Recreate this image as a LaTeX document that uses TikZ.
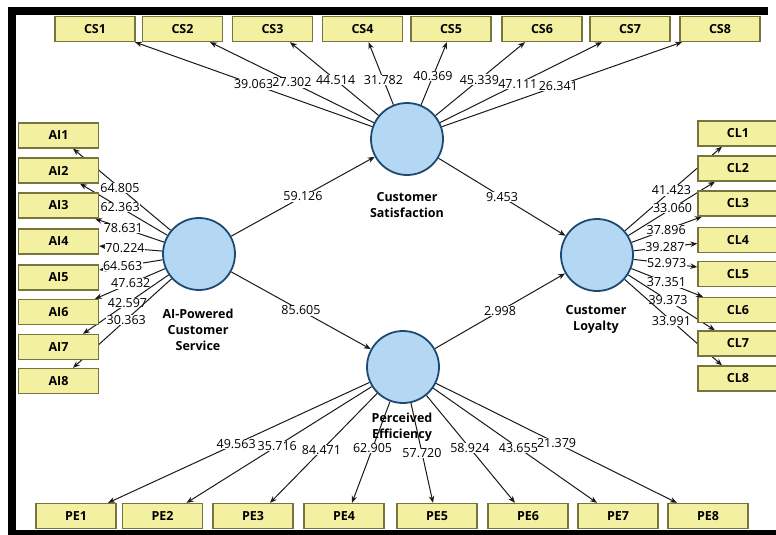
\documentclass[tikz,border=0pt]{standalone}
\usepackage{fontspec}
\setmainfont{Open Sans}
\usepackage{tikz}
\usetikzlibrary{arrows.meta,backgrounds}
\definecolor{circfill}{HTML}{B4D8F4}
\definecolor{circedge}{HTML}{1D4A72}
\definecolor{boxfill}{HTML}{F4F0A2}
\definecolor{boxedge}{HTML}{77743C}
\tikzstyle{arrow} = [->,>={Stealth[length=7pt,width=5.5pt]},line width=1pt,draw=black!90]
\tikzstyle{latent} = [circle,draw=circedge,fill=circfill,line width=1.8pt,minimum size=72pt,inner sep=0pt]
\tikzstyle{indicator} = [rectangle,draw=boxedge,fill=boxfill,line width=1.3pt,minimum width=80pt,minimum height=25pt,inner sep=0pt,font=\fontsize{12.5}{12.5}\selectfont\bfseries]
\tikzstyle{coef} = [fill=white,inner sep=0.5pt,font=\fontsize{12.5}{12.5}\selectfont]
\tikzstyle{lvname} = [align=center,font=\fontsize{12.5}{16}\selectfont\bfseries]

\begin{document}
\begin{tikzpicture}[x=1pt,y=-1pt]
        \useasboundingbox (0,0) rectangle (776,535);
        % frame
        \fill[black] (8,7) rectangle (768,15);
        \fill[black] (8,7) rectangle (16,535);
        \fill[black] (8,530) rectangle (776,535);

        % latent variables
        \node[latent] (ai) at (199,254) {};
        \node[latent] (cs) at (407,139) {};
        \node[latent] (cl) at (597,255) {};
        \node[latent] (pe) at (403,367) {};
        \node[lvname] (ai-name) at (198,330) {AI-Powered\\Customer\\Service};
        \node[lvname] (cs-name) at (407,205) {Customer\\Satisfaction};
        \node[lvname] (cl-name) at (596,319) {Customer\\Loyalty};
        \node[lvname] (pe-name) at (402,427) {Perceived\\Efficiency};

        % indicators
        \node[indicator] (cs1) at (95,29) {CS1};
        \node[indicator] (cs2) at (182.5,29) {CS2};
        \node[indicator] (cs3) at (272.5,29) {CS3};
        \node[indicator] (cs4) at (362.5,29) {CS4};
        \node[indicator] (cs5) at (451,29) {CS5};
        \node[indicator] (cs6) at (542,29) {CS6};
        \node[indicator] (cs7) at (630,29) {CS7};
        \node[indicator] (cs8) at (720,29) {CS8};

        \node[indicator] (ai1) at (58.5,135.5) {AI1};
        \node[indicator] (ai2) at (58.5,170.5) {AI2};
        \node[indicator] (ai3) at (58.5,205.5) {AI3};
        \node[indicator] (ai4) at (58.5,241.5) {AI4};
        \node[indicator] (ai5) at (58.5,277.5) {AI5};
        \node[indicator] (ai6) at (58.5,312) {AI6};
        \node[indicator] (ai7) at (58.5,347) {AI7};
        \node[indicator] (ai8) at (58.5,381) {AI8};

        \node[indicator] (cl1) at (738,133.5) {CL1};
        \node[indicator] (cl2) at (738,168.5) {CL2};
        \node[indicator] (cl3) at (738,203.5) {CL3};
        \node[indicator] (cl4) at (738,240) {CL4};
        \node[indicator] (cl5) at (738,274) {CL5};
        \node[indicator] (cl6) at (738,310) {CL6};
        \node[indicator] (cl7) at (738,343.5) {CL7};
        \node[indicator] (cl8) at (738,378.5) {CL8};

        \node[indicator] (pe1) at (76,516) {PE1};
        \node[indicator] (pe2) at (162.5,516) {PE2};
        \node[indicator] (pe3) at (253,516) {PE3};
        \node[indicator] (pe4) at (344,516) {PE4};
        \node[indicator] (pe5) at (437,516) {PE5};
        \node[indicator] (pe6) at (528,516) {PE6};
        \node[indicator] (pe7) at (618,516) {PE7};
        \node[indicator] (pe8) at (708,516) {PE8};

        \begin{pgfonlayer}{background}
        % inner model
        \draw[arrow] (ai) -- node[coef]{59.126} (cs);
        \draw[arrow] (cs) -- node[coef]{9.453} (cl);
        \draw[arrow] (ai) -- node[coef]{85.605} (pe);
        \draw[arrow] (pe) -- node[coef]{2.998} (cl);

        % outer model
        \draw[arrow] (cs) -- node[coef,pos=0.5]{39.063} ([xshift=40pt]cs1.south);
        \draw[arrow] (cs) -- node[coef,pos=0.5]{27.302} ([xshift=27.5pt]cs2.south);
        \draw[arrow] (cs) -- node[coef,pos=0.485]{44.514} ([xshift=17.5pt]cs3.south);
        \draw[arrow] (cs) -- node[coef,pos=0.4]{31.782} ([xshift=6pt]cs4.south);
        \draw[arrow] (cs) -- node[coef,pos=0.46]{40.369} ([xshift=-4pt]cs5.south);
        \draw[arrow] (cs) -- node[coef,pos=0.49]{45.339} ([xshift=-17pt]cs6.south);
        \draw[arrow] (cs) -- node[coef,pos=0.48]{47.111} ([xshift=-28pt]cs7.south);
        \draw[arrow] (cs) -- node[coef,pos=0.485]{26.341} ([xshift=-38pt]cs8.south);

        \draw[arrow] (ai) -- node[coef,pos=0.52]{64.805} ([xshift=14.5pt]ai1.south);
        \draw[arrow] (ai) -- node[coef,pos=0.54]{62.363} ([xshift=21.5pt]ai2.south);
        \draw[arrow] (ai) -- node[coef,pos=0.59]{78.631} ([xshift=36.5pt]ai3.south);
        \draw[arrow] (ai) -- node[coef,pos=0.59]{70.224} ([yshift=-4.5pt]ai4.east);
        \draw[arrow] (ai) -- node[coef,pos=0.63]{64.563} ([yshift=7.5pt]ai5.east);
        \draw[arrow] (ai) -- node[coef,pos=0.49]{47.632} ([xshift=36.5pt]ai6.north);
        \draw[arrow] (ai) -- node[coef,pos=0.48]{42.597} ([xshift=24.5pt]ai7.north);
        \draw[arrow] (ai) -- node[coef,pos=0.46]{30.363} ([xshift=14.5pt]ai8.north);

        \draw[arrow] (cl) -- node[coef,pos=0.48]{41.423} ([xshift=-16pt]cl1.south);
        \draw[arrow] (cl) -- node[coef,pos=0.51]{33.060} ([xshift=-23pt]cl2.south);
        \draw[arrow] (cl) -- node[coef,pos=0.49]{37.896} ([xshift=-36pt]cl3.south);
        \draw[arrow] (cl) -- node[coef,pos=0.49]{39.287} ([yshift=-3.5pt]cl4.west);
        \draw[arrow] (cl) -- node[coef,pos=0.52]{52.973} ([yshift=7pt]cl5.west);
        \draw[arrow] (cl) -- node[coef,pos=0.49]{37.351} ([xshift=-35pt]cl6.north);
        \draw[arrow] (cl) -- node[coef,pos=0.46]{39.373} ([xshift=-23pt]cl7.north);
        \draw[arrow] (cl) -- node[coef,pos=0.48]{33.991} ([xshift=-16pt]cl8.north);

        \draw[arrow] (pe) -- node[coef,pos=0.51]{49.563} ([xshift=32pt]pe1.north);
        \draw[arrow] (pe) -- node[coef,pos=0.51]{35.716} ([xshift=24pt]pe2.north);
        \draw[arrow] (pe) -- node[coef,pos=0.52]{84.471} ([xshift=17pt]pe3.north);
        \draw[arrow] (pe) -- node[coef,pos=0.46]{62.905} ([xshift=8pt]pe4.north);
        \draw[arrow] (pe) -- node[coef,pos=0.5]{57.720} ([xshift=-4pt]pe5.north);
        \draw[arrow] (pe) -- node[coef,pos=0.49]{58.924} ([xshift=-13pt]pe6.north);
        \draw[arrow] (pe) -- node[coef,pos=0.52]{43.655} ([xshift=-21pt]pe7.north);
        \draw[arrow] (pe) -- node[coef,pos=0.5]{21.379} ([xshift=-31pt]pe8.north);
        \end{pgfonlayer}
\end{tikzpicture}
\end{document}
